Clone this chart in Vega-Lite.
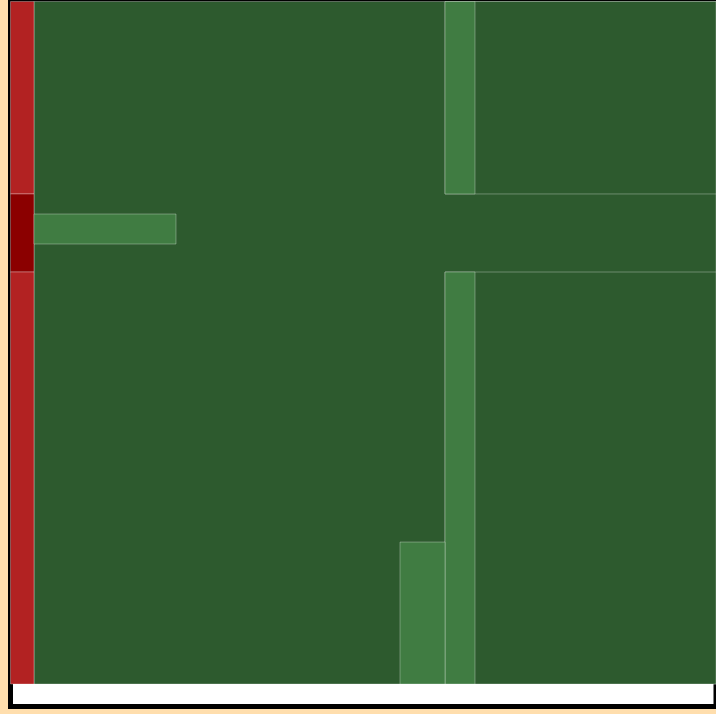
{
  "$schema": "https://vega.github.io/schema/vega-lite/v6.json",
  "autosize": {"type": "none"},
  "width": 705.5,
  "height": 705,
  "padding": {"left": 10.5, "top": 1.5, "right": 0, "bottom": 7.5},
  "background": "#FFDEAD",
  "config": {"view": {"stroke": "#000000", "strokeWidth": 5, "fill": "#FFFFFF"}},
  "data": {"values": [
    {"x": 3.33, "x2": 100, "y": 0, "y2": 96.81, "kind": "c"},
    {"x": 61.59, "x2": 100, "y": 0, "y2": 27.30, "kind": "c"},
    {"x": 61.59, "x2": 100, "y": 38.37, "y2": 96.81, "kind": "c"},
    {"x": 0, "x2": 3.33, "y": 0, "y2": 27.30, "kind": "a"},
    {"x": 0, "x2": 3.33, "y": 27.30, "y2": 38.37, "kind": "b"},
    {"x": 0, "x2": 3.33, "y": 38.37, "y2": 96.81, "kind": "a"},
    {"x": 61.59, "x2": 65.84, "y": 0, "y2": 27.30, "kind": "d"},
    {"x": 3.33, "x2": 23.46, "y": 30.14, "y2": 34.40, "kind": "d"},
    {"x": 61.59, "x2": 65.84, "y": 38.37, "y2": 96.81, "kind": "d"},
    {"x": 55.21, "x2": 61.59, "y": 76.67, "y2": 96.81, "kind": "d"}
  ]},
  "mark": {"type": "rect", "stroke": "#FFFFFF", "strokeOpacity": 0.3, "strokeWidth": 1},
  "encoding": {
    "x": {"field": "x", "type": "quantitative", "scale": {"domain": [0, 100], "nice": false, "zero": false}, "axis": null},
    "x2": {"field": "x2"},
    "y": {"field": "y", "type": "quantitative", "scale": {"domain": [0, 100], "nice": false, "zero": false, "reverse": true}, "axis": null},
    "y2": {"field": "y2"},
    "color": {"field": "kind", "type": "nominal", "scale": {"domain": ["a", "b", "c", "d"], "range": ["#B22222", "#8B0000", "#2D5A2E", "#407C42"]}, "legend": null},
    "order": {"value": 0}
  }
}
